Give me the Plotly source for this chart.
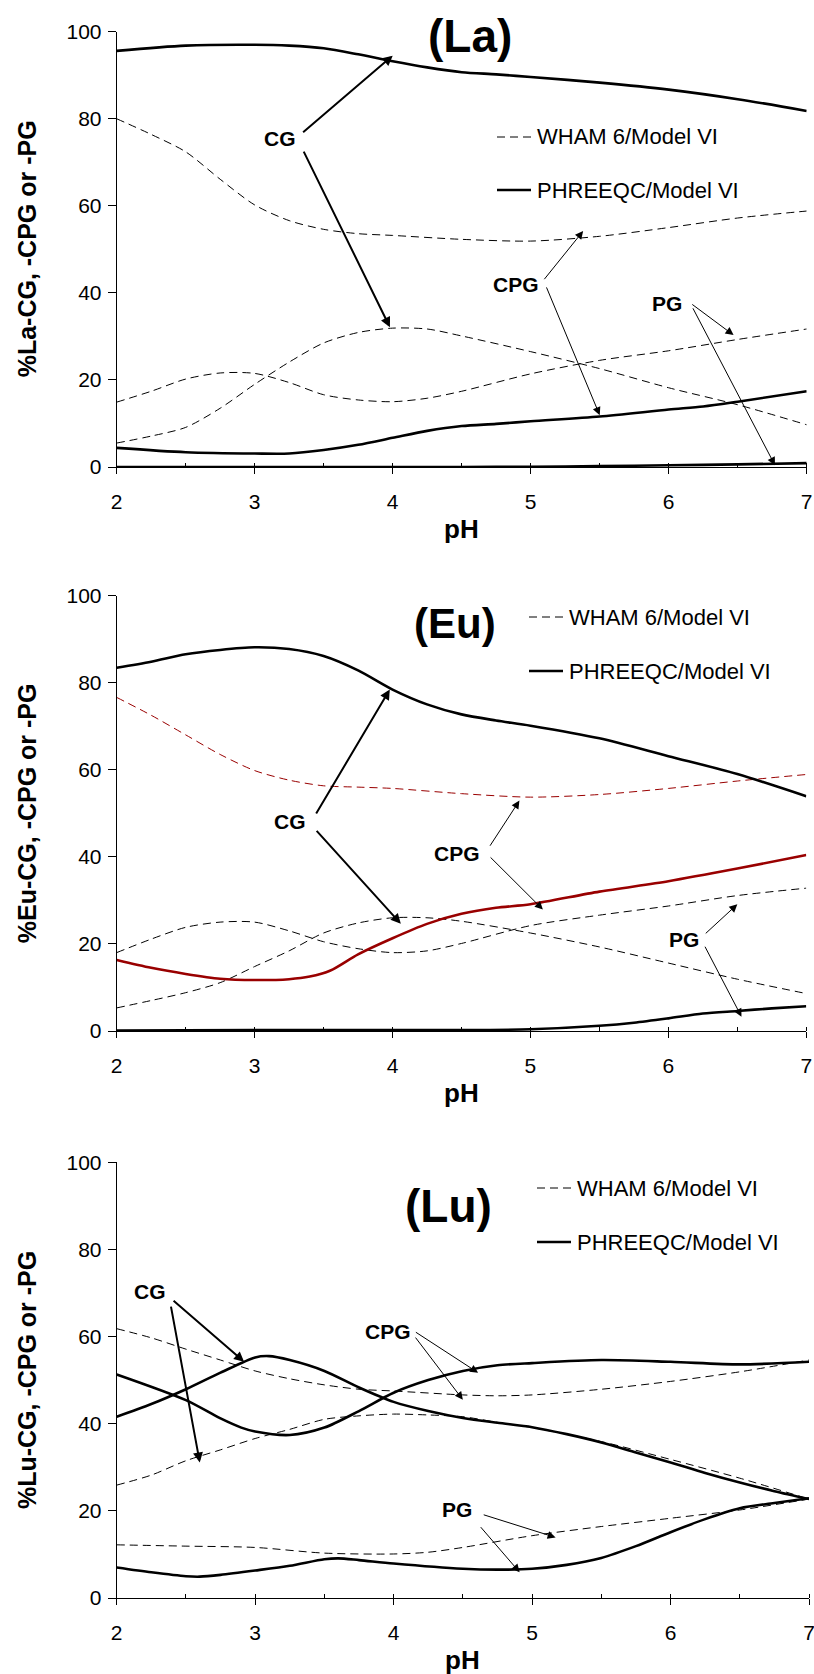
import plotly.graph_objects as go

W, H = 814, 1674
FONT = "Arial, Liberation Sans, sans-serif"

# ---------------- data: (La) ----------------
la_x_cg_p = [2, 2.5, 3, 3.25, 3.5, 3.75, 4, 4.25, 4.5, 4.75, 5, 5.5, 6, 6.5, 7]
la_cg_p = [95.6, 96.8, 97.0, 96.8, 96.2, 94.8, 93.2, 91.8, 90.7, 90.2, 89.6, 88.3, 86.7, 84.5, 81.8]
la_x_cpg_p = [2, 2.5, 3, 3.25, 3.5, 3.75, 4, 4.25, 4.5, 4.75, 5, 5.5, 6, 6.25, 6.5, 7]
la_cpg_p = [4.4, 3.4, 3.1, 3.1, 3.9, 5.1, 6.7, 8.3, 9.4, 9.9, 10.5, 11.6, 13.2, 13.9, 15.0, 17.4]
la_x_pg_p = [2, 3, 4, 4.5, 5, 5.5, 6, 6.5, 7]
la_pg_p = [0.0, 0.0, 0.0, 0.0, 0.05, 0.2, 0.4, 0.6, 0.9]
la_x_w = [2, 2.25, 2.5, 2.75, 3, 3.25, 3.5, 3.75, 4, 4.25, 4.5, 5, 5.5, 6, 6.5, 7]
la_cg_w = [5.5, 7.1, 9.1, 13.5, 19.0, 24.1, 28.5, 30.9, 31.9, 31.7, 30.1, 26.5, 22.6, 18.2, 14.3, 9.7]
la_pg_w = [14.9, 17.4, 20.2, 21.6, 21.5, 19.4, 16.6, 15.4, 15.0, 15.8, 17.4, 21.4, 24.5, 26.7, 29.3, 31.7]
la_x_cpg_w = [2, 2.25, 2.5, 2.75, 3, 3.25, 3.5, 3.75, 4, 4.5, 5, 5.5, 6, 6.5, 7]
la_cpg_w = [80.0, 76.4, 72.4, 66.1, 60.2, 56.6, 54.6, 53.6, 53.2, 52.3, 51.9, 53.0, 55.0, 57.2, 58.8]

# ---------------- data: (Eu) ----------------
eu_x_cg_p = [2, 2.25, 2.5, 2.75, 3, 3.25, 3.5, 3.75, 4, 4.25, 4.5, 4.75, 5, 5.5, 6, 6.5, 7]
eu_cg_p = [83.4, 84.8, 86.5, 87.5, 88.1, 87.7, 86.1, 82.8, 78.4, 75.0, 72.7, 71.3, 70.1, 67.2, 63.1, 59.0, 53.9]
eu_x_cpg_p = [2, 2.25, 2.5, 2.75, 3, 3.25, 3.4, 3.55, 3.75, 4, 4.25, 4.5, 4.75, 5, 5.5, 6, 6.5, 7]
eu_cpg_p = [16.3, 14.5, 13.1, 12.0, 11.7, 11.9, 12.5, 13.9, 17.6, 21.3, 24.6, 26.9, 28.3, 29.1, 32.0, 34.4, 37.3, 40.4]
eu_x_pg_p = [2, 3, 4, 4.5, 5, 5.5, 5.75, 6, 6.25, 6.5, 6.75, 7]
eu_pg_p = [0.1, 0.2, 0.2, 0.2, 0.4, 1.2, 1.9, 2.9, 4.0, 4.6, 5.2, 5.7]
eu_x_cpg_w = [2, 2.25, 2.5, 2.75, 3, 3.25, 3.5, 3.75, 4, 4.5, 5, 5.5, 6, 6.5, 7]
eu_cpg_w = [76.6, 72.5, 68.0, 63.5, 59.8, 57.6, 56.3, 56.0, 55.7, 54.5, 53.7, 54.3, 55.7, 57.4, 58.9]
eu_x_w = [2, 2.25, 2.5, 2.75, 3, 3.25, 3.5, 3.75, 4, 4.25, 4.5, 5, 5.5, 6, 6.5, 7]
eu_pg_w = [18.0, 21.1, 23.8, 25.0, 25.0, 23.0, 20.5, 18.9, 18.0, 18.4, 20.1, 24.2, 26.6, 28.7, 31.1, 32.8]
eu_cg_w = [5.3, 7.0, 8.8, 11.1, 14.8, 18.4, 22.5, 24.8, 26.0, 26.0, 25.2, 22.5, 19.3, 15.6, 11.9, 8.6]

# ---------------- data: (Lu) ----------------
lu_x_cpg_p = [2, 2.5, 2.75, 2.9, 3, 3.25, 3.5, 3.75, 4, 4.25, 4.5, 4.75, 5, 5.5, 6, 6.5, 7]
lu_cpg_p = [51.3, 45.4, 41.2, 39.1, 38.2, 37.4, 39.1, 42.9, 47.1, 50.0, 52.1, 53.4, 53.9, 54.6, 54.2, 53.6, 54.2]
lu_x_cg_p = [2, 2.25, 2.5, 2.75, 3, 3.1, 3.25, 3.5, 3.75, 4, 4.25, 4.5, 4.75, 5, 5.25, 5.5, 5.75, 6, 6.25, 6.5, 6.75, 7]
lu_cg_p = [41.6, 44.5, 47.9, 51.7, 55.2, 55.5, 54.6, 52.1, 48.3, 45.0, 42.9, 41.3, 40.2, 39.2, 37.6, 35.7, 33.4, 31.1, 28.7, 26.5, 24.5, 22.7]
lu_x_pg_p = [2, 2.25, 2.5, 2.6, 2.75, 3, 3.25, 3.5, 3.6, 3.75, 4, 4.5, 4.75, 5, 5.25, 5.5, 5.75, 6, 6.25, 6.5, 6.75, 7]
lu_pg_p = [7.0, 5.9, 5.0, 4.9, 5.3, 6.3, 7.4, 8.9, 9.1, 8.7, 7.9, 6.7, 6.5, 6.7, 7.6, 9.2, 11.9, 15.1, 18.1, 20.6, 21.8, 22.9]
lu_x_cpg_w = [2, 2.25, 2.5, 2.75, 3, 3.25, 3.5, 3.75, 4, 4.5, 4.75, 5, 5.5, 6, 6.5, 7]
lu_cpg_w = [61.8, 59.7, 57.1, 54.6, 52.1, 50.3, 48.9, 47.9, 47.5, 46.6, 46.4, 46.6, 47.9, 49.7, 51.9, 54.6]
lu_x_cg_w = [2, 2.25, 2.5, 2.75, 3, 3.25, 3.5, 3.75, 4, 4.25, 4.5, 4.75, 5, 5.5, 6, 6.5, 7]
lu_cg_w = [25.9, 28.2, 31.5, 34.0, 36.6, 38.7, 41.0, 41.8, 42.2, 42.0, 41.6, 40.3, 39.1, 35.9, 31.8, 27.5, 22.7]
lu_x_pg_w = [2, 2.5, 3, 3.5, 4, 4.25, 4.5, 5, 5.5, 6, 6.5, 7]
lu_pg_w = [12.2, 11.9, 11.6, 10.3, 10.1, 10.5, 11.6, 14.3, 16.4, 18.3, 20.2, 22.7]

# ---------------- labels ----------------
panel_titles = ["(La)", "(Eu)", "(Lu)"]
y_titles = ["%La-CG, -CPG or -PG", "%Eu-CG, -CPG or -PG", "%Lu-CG, -CPG or -PG"]
x_title = "pH"
legend_labels = ["WHAM 6/Model VI", "PHREEQC/Model VI"]
x_ticks = [2, 3, 4, 5, 6, 7]
y_ticks = [0, 20, 40, 60, 80, 100]

# annotation labels: (text, x, y) and arrows: (tail_x, tail_y, head_x, head_y, width)
la_labels = [("CG", 3.18, 75.4), ("CPG", 4.89, 42.0), ("PG", 5.99, 37.6)]
la_arrows = [(3.34, 76.6, 4.0, 94.5, 2), (3.35, 72.8, 3.98, 32.1, 2),
             (5.09, 42.8, 5.38, 54.2, 1), (5.11, 41.6, 5.50, 11.9, 1),
             (6.16, 37.6, 6.47, 30.3, 1), (6.17, 36.8, 6.77, 0.4, 1)]
eu_labels = [("CG", 3.26, 48.0), ("CPG", 4.47, 40.7), ("PG", 6.11, 20.9)]
eu_arrows = [(3.44, 49.6, 3.98, 78.4, 2), (3.44, 46.3, 4.06, 24.6, 2),
             (4.70, 42.2, 4.92, 52.9, 1), (4.70, 40.2, 5.09, 27.9, 1),
             (6.26, 22.1, 6.50, 29.1, 1), (6.26, 19.7, 6.53, 3.3, 1)]
lu_labels = [("CG", 2.24, 70.4), ("CPG", 3.96, 61.2), ("PG", 4.46, 20.2)]
lu_arrows = [(2.40, 68.5, 2.92, 54.2, 2), (2.39, 67.2, 2.60, 31.1, 2),
             (4.15, 61.2, 4.61, 51.7, 1), (4.15, 60.1, 4.50, 45.5, 1),
             (4.64, 19.2, 5.17, 13.9, 1), (4.62, 16.6, 4.91, 5.9, 1)]

BLACK = "black"
RED = "#990000"

fig = go.Figure()


def dashed(x, y, axn, color=BLACK):
    fig.add_trace(go.Scatter(x=x, y=y, mode="lines", xaxis="x" + axn, yaxis="y" + axn,
                             line=dict(color=color, width=1, dash="8px,5px", shape="spline", smoothing=0.8),
                             showlegend=False, hoverinfo="skip"))


def solid(x, y, axn, color=BLACK):
    fig.add_trace(go.Scatter(x=x, y=y, mode="lines", xaxis="x" + axn, yaxis="y" + axn,
                             line=dict(color=color, width=2.6, shape="spline", smoothing=0.8),
                             showlegend=False, hoverinfo="skip"))


# La
dashed(la_x_cpg_w, la_cpg_w, "")
dashed(la_x_w, la_cg_w, "")
dashed(la_x_w, la_pg_w, "")
solid(la_x_cg_p, la_cg_p, "")
solid(la_x_cpg_p, la_cpg_p, "")
solid(la_x_pg_p, la_pg_p, "")
# Eu
dashed(eu_x_cpg_w, eu_cpg_w, "2", RED)
dashed(eu_x_w, eu_pg_w, "2")
dashed(eu_x_w, eu_cg_w, "2")
solid(eu_x_cg_p, eu_cg_p, "2")
solid(eu_x_cpg_p, eu_cpg_p, "2", RED)
solid(eu_x_pg_p, eu_pg_p, "2")
# Lu
dashed(lu_x_cpg_w, lu_cpg_w, "3")
dashed(lu_x_cg_w, lu_cg_w, "3")
dashed(lu_x_pg_w, lu_pg_w, "3")
solid(lu_x_cpg_p, lu_cpg_p, "3")
solid(lu_x_cg_p, lu_cg_p, "3")
solid(lu_x_pg_p, lu_pg_p, "3")

# ---------------- layout geometry (pixels) ----------------
panels = [
    dict(top=31.7, bottom=467.0, left=116.7, right=806.7, title_xy=(470, 36), title_size=46,
         leg_x=497, leg_y=(137, 190)),
    dict(top=595.5, bottom=1031.0, left=116.7, right=806.3, title_xy=(455, 624), title_size=42,
         leg_x=529, leg_y=(617, 671)),
    dict(top=1162.2, bottom=1598.0, left=116.7, right=809.0, title_xy=(448, 1206), title_size=46,
         leg_x=537, leg_y=(1188, 1242)),
]


def px(xp):
    return xp / W


def py(yp):
    return 1 - yp / H


axis_font = dict(family=FONT, size=21, color="black")
layout = dict(
    width=W, height=H, margin=dict(l=0, r=0, t=0, b=0, pad=0, autoexpand=False),
    paper_bgcolor="white", plot_bgcolor="white", showlegend=False,
    font=dict(family=FONT, color="black"),
)
annotations = []
shapes = []
label_sets = [la_labels, eu_labels, lu_labels]
arrow_sets = [la_arrows, eu_arrows, lu_arrows]

for i, p in enumerate(panels):
    sfx = "" if i == 0 else str(i + 1)
    xa = "xaxis" + sfx
    ya = "yaxis" + sfx
    layout[xa] = dict(
        domain=[px(p["left"]), px(p["right"])], anchor="y" + sfx, range=[2, 7],
        tickvals=x_ticks, ticks="outside", ticklen=6, tickwidth=1, tickcolor="black",
        showline=True, linecolor="black", linewidth=1, showgrid=False, zeroline=False,
        tickfont=axis_font, ticklabelstandoff=10, automargin=False, ticklabeloverflow="allow",
        minor=dict(dtick=0.5, ticks="inside", ticklen=4, tickcolor="black", showgrid=False),
    )
    layout[ya] = dict(
        domain=[py(p["bottom"]), py(p["top"])], anchor="x" + sfx, range=[0, 100],
        tickvals=y_ticks, ticks="outside", ticklen=8, tickwidth=1, tickcolor="black",
        showline=True, linecolor="black", linewidth=1, showgrid=False, zeroline=False,
        tickfont=axis_font, ticklabelstandoff=2, automargin=False, ticklabeloverflow="allow",
    )
    xr = "x" + sfx
    yr = "y" + sfx
    # axis titles
    annotations.append(dict(text="<b>%s</b>" % x_title, xref="paper", yref="paper",
                            x=px((p["left"] + p["right"]) / 2), y=py(p["bottom"] + 62),
                            showarrow=False, xanchor="center", yanchor="middle",
                            font=dict(family=FONT, size=26, color="black")))
    annotations.append(dict(text="<b>%s</b>" % y_titles[i], xref="paper", yref="paper",
                            x=px(27), y=py((p["top"] + p["bottom"]) / 2), textangle=-90,
                            showarrow=False, xanchor="center", yanchor="middle",
                            font=dict(family=FONT, size=25, color="black")))
    # panel title
    tx, ty = p["title_xy"]
    annotations.append(dict(text="<b>%s</b>" % panel_titles[i], xref="paper", yref="paper",
                            x=px(tx), y=py(ty), showarrow=False, xanchor="center", yanchor="middle",
                            font=dict(family=FONT, size=p["title_size"], color="black")))
    # legend
    lx = p["leg_x"]
    for j, lab in enumerate(legend_labels):
        ly = p["leg_y"][j]
        shapes.append(dict(type="line", xref="paper", yref="paper",
                           x0=px(lx), x1=px(lx + 34), y0=py(ly), y1=py(ly),
                           line=dict(color="black", width=1 if j == 0 else 2.6,
                                     dash="8px,5px" if j == 0 else "solid")))
        annotations.append(dict(text=lab, xref="paper", yref="paper", x=px(lx + 38), y=py(ly),
                                showarrow=False, xanchor="left", yanchor="middle",
                                font=dict(family=FONT, size=22, color="black")))
    # curve labels
    for (t, x, y) in label_sets[i]:
        annotations.append(dict(text="<b>%s</b>" % t, xref=xr, yref=yr, x=x, y=y, showarrow=False,
                                xanchor="center", yanchor="middle",
                                font=dict(family=FONT, size=21, color="black")))
    for (ax_, ay_, hx, hy, w) in arrow_sets[i]:
        annotations.append(dict(text="", xref=xr, yref=yr, axref=xr, ayref=yr,
                                x=hx, y=hy, ax=ax_, ay=ay_, showarrow=True,
                                arrowhead=2, arrowsize=1.0 if w == 2 else 1.6, arrowwidth=w,
                                arrowcolor="black", standoff=0, startstandoff=0))

layout["annotations"] = annotations
layout["shapes"] = shapes
fig.update_layout(**layout)
fig.write_html("out.html", config={"displayModeBar": False},
               post_script="document.body.style.margin='0';document.body.style.overflow='hidden';")
